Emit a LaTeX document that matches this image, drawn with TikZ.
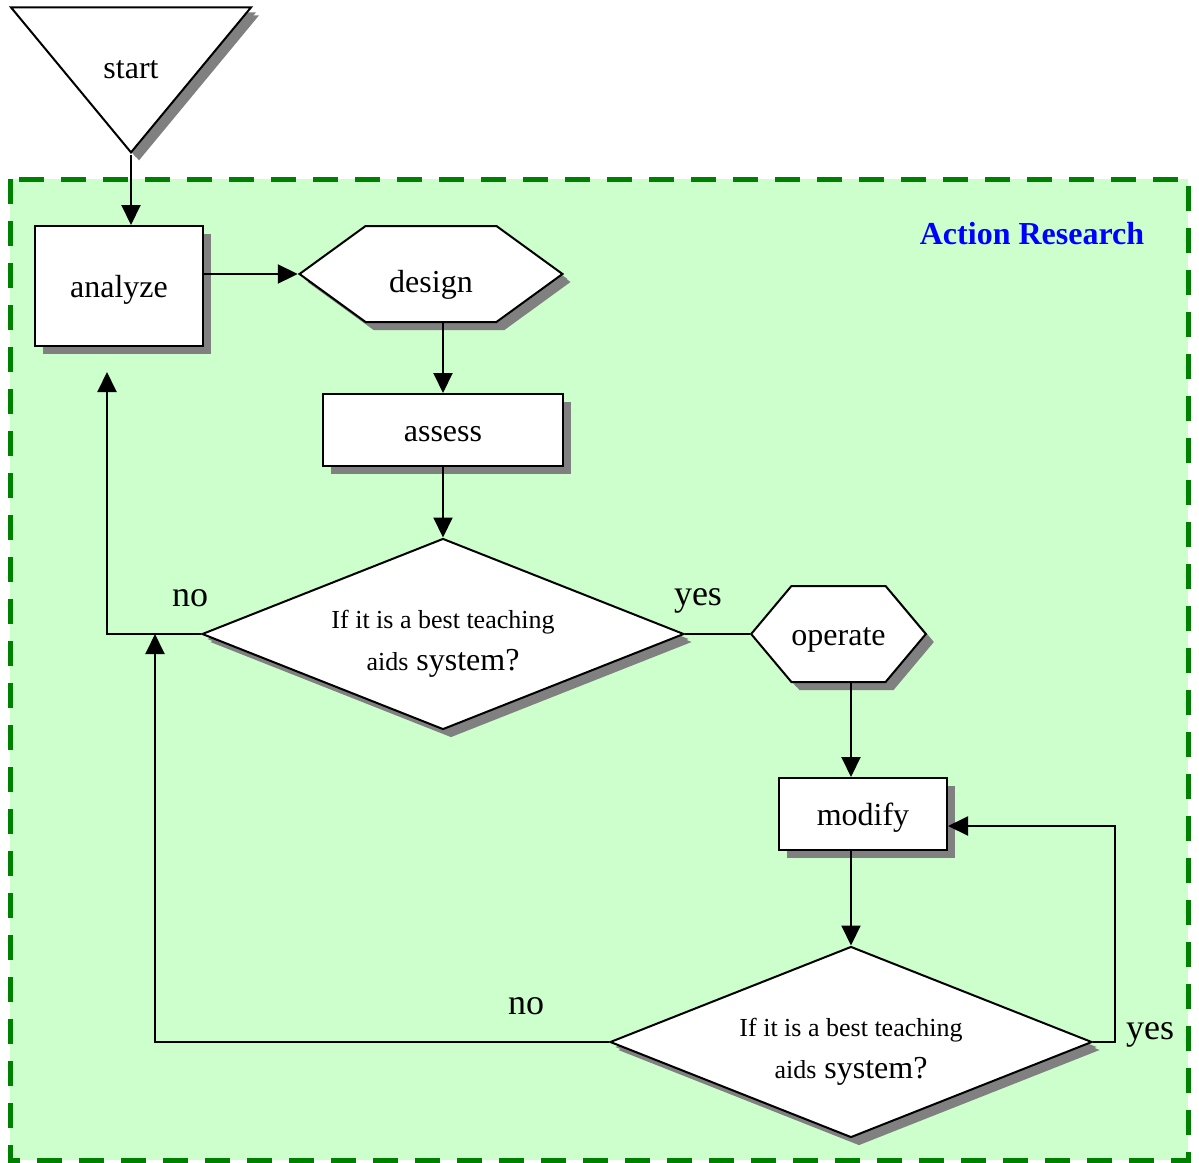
\documentclass[tikz,border=0pt]{standalone}
\usepackage{fontspec}
\setmainfont{Liberation Serif}
\usetikzlibrary{shapes.geometric,shapes.symbols,shadows,arrows.meta}
\begin{document}
\begin{tikzpicture}[x=0.5pt, y=-0.5pt,
  every node/.style={font=\fontsize{16}{19}\selectfont},
  blk/.style={draw, fill=white, line width=1pt, inner sep=0pt,
    drop shadow={shadow xshift=4pt, shadow yshift=-4pt, fill=gray, opacity=1}},
  thin shadow/.style={drop shadow={shadow xshift=2.5pt, shadow yshift=-2.5pt, fill=gray, opacity=1}},
  oneline/.style={text height=15pt, text depth=3.5pt},
  hexa/.style={blk, signal, signal to=west and east},
  decision/.style={blk, diamond, thin shadow, aspect=2.52, minimum width=241pt, minimum height=95.5pt, align=center},
  arr/.style={line width=1pt, -{Triangle[length=10pt,width=9.5pt]}},
  lbl/.style={font=\fontsize{18}{21}\selectfont}]
\useasboundingbox (0,0) rectangle (1199,1162);
% research frame
\draw[green!50!black, fill={rgb,255:red,204;green,255;blue,204}, line width=2.5pt,
  dash pattern=on 12.5pt off 8.5pt] (10,179) rectangle (1188,1160);
\node[text=blue, font=\bfseries\fontsize{16}{19}\selectfont] (title) at (1032,234) {Action Research};

\node[blk, thin shadow, isosceles triangle, isosceles triangle stretches, shape border rotate=-90,
  minimum width=120pt, minimum height=72.5pt, anchor=apex, text height=23pt, text depth=0pt] (start) at (131,155) {start};
\node[blk, oneline, minimum width=84pt, minimum height=60pt] (analyze) at (119,286) {analyze};
\node[hexa, thin shadow, minimum width=131.5pt, minimum height=48pt, signal pointer angle=72,
  text height=22pt, text depth=3.5pt] (design) at (431,274) {design};
\node[blk, oneline, minimum width=120pt, minimum height=36pt] (assess) at (443,430) {assess};
\node[decision] (dec1) at (443,634) {{\fontsize{13}{20}\selectfont\rule{0pt}{19pt}If it is a best teaching}\\[2pt]{\fontsize{13}{20}\selectfont aids} system?};
\node[hexa, oneline, thin shadow, minimum width=83.5pt, minimum height=48pt, signal pointer angle=100] (operate) at (838.5,634) {operate};
\node[blk, oneline, minimum width=84pt, minimum height=36pt] (modify) at (863,814) {modify};
\node[decision] (dec2) at (851,1042) {{\fontsize{13}{20}\selectfont\rule{0pt}{19pt}If it is a best teaching}\\[2pt]{\fontsize{13}{20}\selectfont aids} system?};

\coordinate (back1) at (107,372);
\coordinate (back2) at (155,634);

\draw[arr] (start.apex) -- (start.apex |- analyze.north);
\draw[arr] (analyze.east |- design.west) -- (design.west);
\draw[arr] (assess.north |- design.south) -- (assess.north);
\draw[arr] (assess.south) -- (dec1.north);
\draw[arr] (dec1.west) -| (back1);
\draw[line width=1pt] (dec1.east) -- (operate.west);
\draw[arr] (operate.south -| dec2.north) -- (modify.north -| dec2.north);
\draw[arr] (modify.south -| dec2.north) -- (dec2.north);
\draw[arr] (dec2.east) -- ++(22,0) |- ([yshift=-6pt]modify.east);
\draw[arr] (dec2.west) -| (back2);

\node[lbl] (no1) at (190,598) {no};
\node[lbl] (yes1) at (698,601) {yes};
\node[lbl] (no2) at (526,1006) {no};
\node[lbl] (yes2) at (1150,1035) {yes};
\end{tikzpicture}
\end{document}
